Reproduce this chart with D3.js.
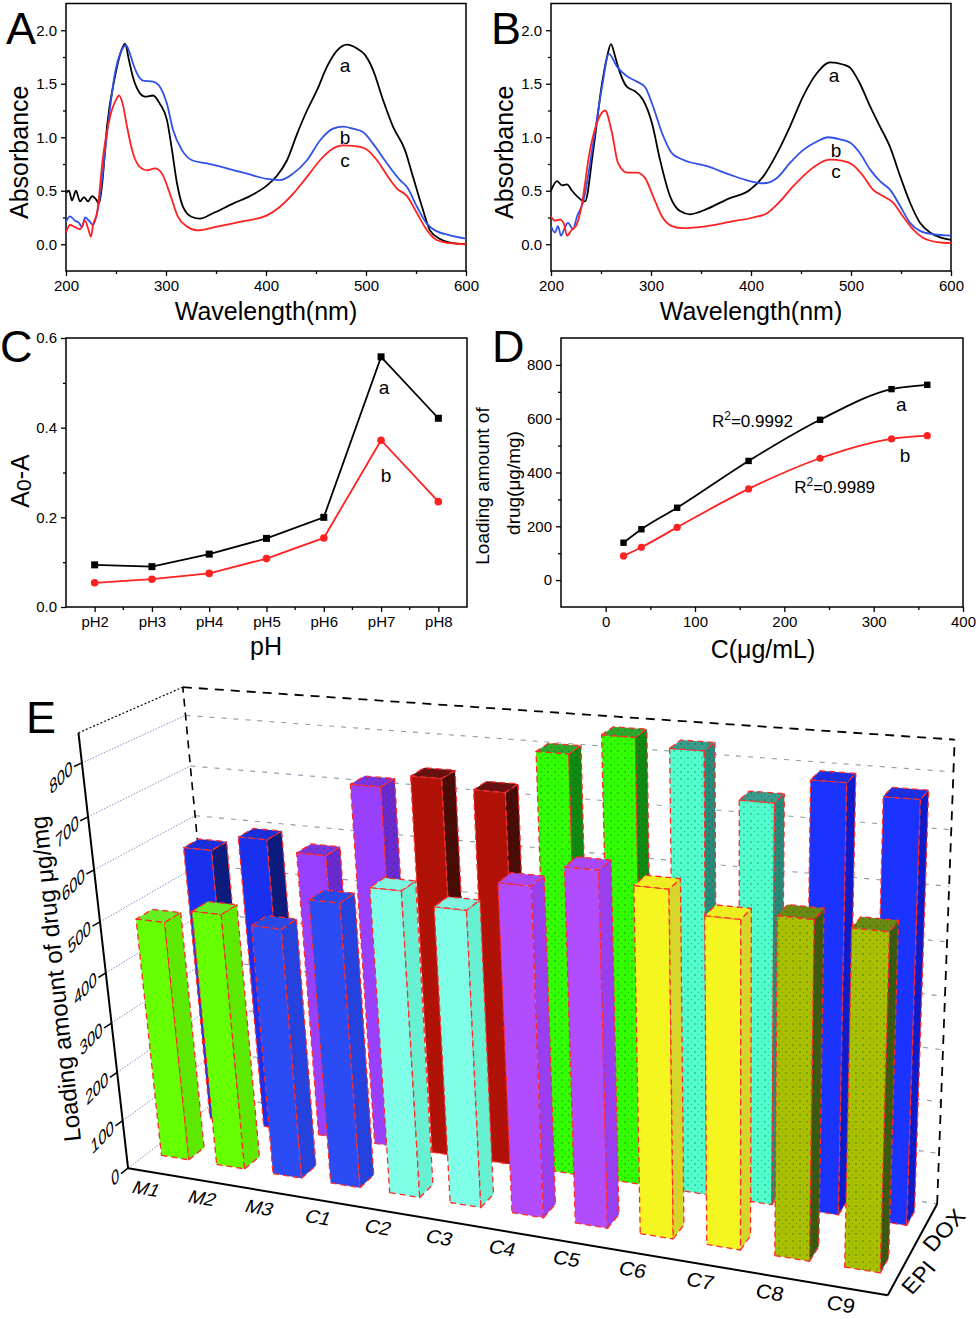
<!DOCTYPE html>
<html>
<head>
<meta charset="utf-8">
<script src="https://cdn.jsdelivr.net/npm/d3@7"></script>
<style>
  body { margin: 0; background: #fff; }
  text { font-family: Arial, "Liberation Sans", sans-serif; fill: #000; }
</style>
</head>
<body>
<svg id="fig" width="980" height="1319"></svg>
<script>
// ---------- data ----------
// panel A spectra [wavelength, absorbance]
const specA_a = [[200,0.48],[203,0.50],[206,0.41],[210,0.50],[214,0.40],[218,0.44],[222,0.40],[226,0.45],[230,0.42],[233,0.38],[236,0.55],[241,1.10],[249,1.57],[255,1.80],[259,1.875],[263,1.72],[267,1.56],[274,1.41],[279,1.38],[287,1.39],[294,1.31],[301,1.16],[306,0.88],[311,0.57],[317,0.35],[326,0.255],[334,0.24],[347,0.29],[367,0.38],[384,0.45],[401,0.55],[411,0.64],[421,0.785],[431,1.03],[441,1.25],[451,1.44],[461,1.66],[471,1.81],[481,1.865],[491,1.83],[499,1.77],[507,1.63],[517,1.35],[527,1.10],[539,0.88],[547,0.63],[556,0.35],[564,0.13],[574,0.05],[584,0.015],[600,0.0]];
const specA_b = [[200,0.21],[204,0.26],[209,0.22],[213,0.20],[216,0.16],[219,0.25],[224,0.21],[227,0.18],[231,0.29],[236,0.6],[241,1.03],[249,1.60],[255,1.80],[260,1.86],[264,1.78],[267,1.69],[272,1.58],[277,1.53],[287,1.52],[294,1.47],[301,1.31],[307,1.07],[316,0.88],[326,0.785],[341,0.755],[361,0.71],[381,0.66],[401,0.61],[414,0.60],[427,0.66],[441,0.785],[454,0.97],[467,1.08],[477,1.10],[487,1.08],[497,1.05],[507,0.94],[521,0.755],[534,0.60],[541,0.535],[551,0.35],[561,0.19],[571,0.12],[584,0.084],[600,0.053]];
const specA_c = [[200,0.11],[204,0.18],[209,0.16],[214,0.14],[219,0.22],[222,0.15],[225,0.07],[227,0.18],[231,0.29],[237,0.815],[244,1.19],[250,1.35],[253,1.39],[257,1.30],[261,1.10],[267,0.85],[274,0.72],[281,0.69],[289,0.71],[296,0.66],[304,0.47],[312,0.255],[321,0.165],[331,0.13],[351,0.165],[374,0.21],[401,0.27],[414,0.35],[427,0.47],[441,0.63],[454,0.785],[467,0.895],[477,0.925],[487,0.92],[499,0.895],[511,0.785],[521,0.645],[531,0.52],[541,0.45],[551,0.29],[561,0.13],[571,0.037],[584,0.01],[600,0.0]];
// panel B spectra
const specB_a = [[200,0.50],[206,0.59],[211,0.55],[216,0.56],[221,0.50],[227,0.44],[234,0.40],[242,0.86],[251,1.50],[256,1.75],[260,1.87],[264,1.76],[267,1.66],[276,1.47],[284,1.43],[292,1.35],[301,1.13],[309,0.79],[319,0.45],[329,0.31],[339,0.28],[356,0.33],[376,0.42],[399,0.51],[412,0.63],[426,0.85],[439,1.10],[452,1.38],[466,1.60],[479,1.70],[492,1.68],[499,1.65],[509,1.50],[519,1.29],[529,1.10],[539,0.91],[549,0.64],[559,0.39],[569,0.20],[579,0.11],[589,0.065],[600,0.04]];
const specB_b = [[200,0.17],[204,0.11],[207,0.17],[210,0.08],[214,0.16],[217,0.20],[222,0.14],[226,0.26],[232,0.39],[242,0.93],[251,1.47],[258,1.78],[266,1.66],[276,1.57],[286,1.52],[294,1.47],[302,1.29],[311,1.04],[321,0.85],[332,0.79],[356,0.73],[379,0.65],[399,0.59],[412,0.57],[426,0.62],[439,0.76],[452,0.88],[466,0.96],[477,1.0],[489,0.98],[499,0.95],[509,0.85],[519,0.70],[529,0.59],[539,0.51],[549,0.36],[559,0.20],[569,0.125],[582,0.094],[600,0.08]];
const specB_c = [[200,0.26],[204,0.22],[209,0.23],[213,0.19],[216,0.08],[221,0.14],[225,0.17],[230,0.33],[239,0.88],[247,1.16],[254,1.25],[261,1.04],[267,0.76],[276,0.67],[286,0.67],[294,0.62],[302,0.45],[311,0.26],[321,0.17],[332,0.15],[356,0.17],[379,0.21],[402,0.25],[416,0.29],[429,0.40],[442,0.54],[456,0.67],[469,0.76],[479,0.79],[492,0.78],[502,0.74],[512,0.64],[522,0.51],[532,0.45],[542,0.39],[552,0.26],[562,0.14],[572,0.06],[586,0.02],[600,0.01]];

// panel C
const pHLabels = ["pH2", "pH3", "pH4", "pH5", "pH6", "pH7", "pH8"];
const pH_a = [0.094, 0.090, 0.118, 0.153, 0.200, 0.558, 0.421];
const pH_b = [0.054, 0.062, 0.075, 0.108, 0.154, 0.372, 0.235];

// panel D
const concD = [20, 40, 80, 160, 240, 320, 360];
const load_a = [139, 189, 269, 443, 596, 710, 726];
const load_b = [90, 122, 196, 339, 453, 525, 537];

// panel E
const samples = ["M1", "M2", "M3", "C1", "C2", "C3", "C4", "C5", "C6", "C7", "C8", "C9"];
const drugs = ["EPI", "DOX"];
const epiLoad = [485, 513, 498, 560, 595, 572, 628, 668, 647, 607, 620, 612];
const doxLoad = [568, 600, 580, 722, 747, 731, 810, 848, 833, 752, 797, 778];
const eTicks = [0, 100, 200, 300, 400, 500, 600, 700, 800];
const epiColors = ["#66ff00", "#66ff00", "#2b4cf5", "#2b4cf5", "#80ffe8", "#80ffe8", "#b24dff", "#b24dff", "#f5f520", "#f5f520", "#a8c000", "#a8c000"];
const epiSide   = ["#5eea00", "#5eea00", "#2542de", "#2542de", "#68f0d2", "#68f0d2", "#9a3ff0", "#9a3ff0", "#d6d62a", "#d6d62a", "#3d5a10", "#3d5a10"];
const epiTop    = ["#66ee22", "#66ee22", "#2848e8", "#2848e8", "#80f5e0", "#80f5e0", "#a848f8", "#a848f8", "#eeee22", "#eeee22", "#6b8a10", "#6b8a10"];
const doxColors = ["#1a30f0", "#1a30f0", "#9940ff", "#9940ff", "#b01208", "#b01208", "#33ff00", "#33ff00", "#50ffcc", "#50ffcc", "#1a33ff", "#1a33ff"];
const doxSide   = ["#0d1a80", "#0d1a80", "#6a2ad0", "#6a2ad0", "#4a0a05", "#4a0a05", "#108a10", "#108a10", "#2a8a78", "#2a8a78", "#0d1ad0", "#0d1ad0"];
const doxTop    = ["#1a2ee0", "#1a2ee0", "#7a35e0", "#7a35e0", "#6a1010", "#6a1010", "#2ea82a", "#2ea82a", "#3a9c8a", "#3a9c8a", "#1a2ee8", "#1a2ee8"];

const svg = d3.select("#fig");
svg.append("rect").attr("width", 980).attr("height", 1319).attr("fill", "#fff");

// speckle texture used on the dotted bars
const pat = svg.append("defs").append("pattern").attr("id", "speck")
    .attr("patternUnits", "userSpaceOnUse").attr("width", 7).attr("height", 7);
pat.append("circle").attr("cx", 2).attr("cy", 2).attr("r", 0.8).attr("fill", "rgba(0,60,50,0.55)");
pat.append("circle").attr("cx", 5.5).attr("cy", 5.5).attr("r", 0.6).attr("fill", "rgba(0,60,50,0.4)");

function letter(txt, x, y) {
    svg.append("text").attr("x", x).attr("y", y)
        .style("font-size", "45px").text(txt);
}

// ---------- panels A and B ----------
function spectrumPanel(left, tag, curves, labels) {
    const x = d3.scaleLinear().domain([200, 600]).range([left, left + 400]);
    const y = d3.scaleLinear().domain([-0.25, 2.25]).range([271, 3.5]);
    const g = svg.append("g");

    g.append("g").attr("transform", "translate(0,271)")
        .call(d3.axisBottom(x).tickValues([250, 350, 450, 550]).tickSize(3).tickFormat(""));
    g.append("g").attr("transform", "translate(0,271)")
        .call(d3.axisBottom(x).tickValues([200, 300, 400, 500, 600]).tickSize(5).tickPadding(4).tickFormat(d3.format("d")));
    g.append("g").attr("transform", `translate(${left},0)`)
        .call(d3.axisLeft(y).tickValues([0.25, 0.75, 1.25, 1.75]).tickSize(3).tickFormat(""));
    g.append("g").attr("transform", `translate(${left},0)`)
        .call(d3.axisLeft(y).tickValues([0, 0.5, 1, 1.5, 2]).tickSize(5).tickPadding(4).tickFormat(d3.format(".1f")));
    g.selectAll(".domain").remove();
    g.selectAll(".tick text").style("font-size", "15px").style("font-family", "Arial, 'Liberation Sans', sans-serif");
    g.selectAll(".tick line").attr("stroke-width", 1.3);

    g.append("rect").attr("x", left).attr("y", 3.5).attr("width", 400).attr("height", 267.5)
        .attr("fill", "none").attr("stroke", "#000").attr("stroke-width", 1.5);

    const line = d3.line().x(d => x(d[0])).y(d => y(d[1])).curve(d3.curveMonotoneX);
    curves.forEach(c => {
        g.append("path").attr("d", line(c.data)).attr("fill", "none")
            .attr("stroke", c.color).attr("stroke-width", 1.8);
    });
    labels.forEach(l => {
        g.append("text").attr("x", x(l[1])).attr("y", y(l[2])).attr("text-anchor", "middle")
            .style("font-size", "19px").text(l[0]);
    });

    g.append("text").attr("transform", `translate(${left - 38},${(3.5 + 271) / 2 + 15}) rotate(-90)`)
        .attr("text-anchor", "middle").style("font-size", "25px").text("Absorbance");
    g.append("text").attr("x", left + 200).attr("y", 320).attr("text-anchor", "middle")
        .style("font-size", "25px").text("Wavelength(nm)");
    letter(tag, left - 60, 44);
}

spectrumPanel(66, "A",
    [{ data: specA_a, color: "#000" }, { data: specA_b, color: "#3050e8" }, { data: specA_c, color: "#ff2020" }],
    [["a", 479, 1.61], ["b", 479, 0.94], ["c", 479, 0.72]]);
spectrumPanel(551, "B",
    [{ data: specB_a, color: "#000" }, { data: specB_b, color: "#3050e8" }, { data: specB_c, color: "#ff2020" }],
    [["a", 483, 1.52], ["b", 485, 0.82], ["c", 485, 0.62]]);

// ---------- panel C ----------
(function () {
    const x = d3.scalePoint().domain(pHLabels).range([66, 467]).padding(0.5);
    const y = d3.scaleLinear().domain([0, 0.6]).range([607, 338]);
    const g = svg.append("g");
    const mids = pHLabels.slice(1).map((p, i) => (x(p) + x(pHLabels[i])) / 2);

    g.append("g").attr("transform", "translate(0,607)")
        .call(d3.axisBottom(x).tickSize(5).tickPadding(4));
    g.selectAll("line.minor").data(mids).enter().append("line").attr("class", "minor")
        .attr("x1", d => d).attr("x2", d => d).attr("y1", 607).attr("y2", 610)
        .attr("stroke", "#000").attr("stroke-width", 1.3);
    g.append("g").attr("transform", "translate(66,0)")
        .call(d3.axisLeft(y).tickValues([0.1, 0.3, 0.5]).tickSize(3).tickFormat(""));
    g.append("g").attr("transform", "translate(66,0)")
        .call(d3.axisLeft(y).tickValues([0, 0.2, 0.4, 0.6]).tickSize(5).tickPadding(4).tickFormat(d3.format(".1f")));
    g.selectAll(".domain").remove();
    g.selectAll(".tick text").style("font-size", "15px").style("font-family", "Arial, 'Liberation Sans', sans-serif");
    g.selectAll(".tick line").attr("stroke-width", 1.3);
    g.append("rect").attr("x", 66).attr("y", 338).attr("width", 401).attr("height", 269)
        .attr("fill", "none").attr("stroke", "#000").attr("stroke-width", 1.5);

    const line = d3.line().x((d, i) => x(pHLabels[i])).y(d => y(d));
    g.append("path").attr("d", line(pH_a)).attr("fill", "none").attr("stroke", "#000").attr("stroke-width", 1.8);
    g.append("path").attr("d", line(pH_b)).attr("fill", "none").attr("stroke", "#ff2020").attr("stroke-width", 1.8);
    g.selectAll("rect.pa").data(pH_a).enter().append("rect").attr("class", "pa")
        .attr("x", (d, i) => x(pHLabels[i]) - 3.5).attr("y", d => y(d) - 3.5)
        .attr("width", 7).attr("height", 7).attr("fill", "#000");
    g.selectAll("circle.pb").data(pH_b).enter().append("circle").attr("class", "pb")
        .attr("cx", (d, i) => x(pHLabels[i])).attr("cy", d => y(d)).attr("r", 3.8).attr("fill", "#ff2020");

    g.append("text").attr("x", x("pH7") + 3).attr("y", y(0.475)).attr("text-anchor", "middle").style("font-size", "19px").text("a");
    g.append("text").attr("x", x("pH7") + 5).attr("y", y(0.278)).attr("text-anchor", "middle").style("font-size", "19px").text("b");

    const yl = g.append("text").attr("transform", "translate(29,481) rotate(-90)")
        .attr("text-anchor", "middle").style("font-size", "25px");
    yl.append("tspan").text("A");
    yl.append("tspan").attr("dy", 2).style("font-size", "21px").text("0");
    yl.append("tspan").attr("dy", -2).text("-A");
    g.append("text").attr("x", 266).attr("y", 655).attr("text-anchor", "middle").style("font-size", "25px").text("pH");
    letter("C", 0, 362);
})();

// ---------- panel D ----------
(function () {
    const x = d3.scaleLinear().domain([-50, 400]).range([561, 963]);
    const y = d3.scaleLinear().domain([-100, 900]).range([607, 338]);
    const g = svg.append("g");

    g.append("g").attr("transform", "translate(0,607)")
        .call(d3.axisBottom(x).tickValues([50, 150, 250, 350]).tickSize(3).tickFormat(""));
    g.append("g").attr("transform", "translate(0,607)")
        .call(d3.axisBottom(x).tickValues([0, 100, 200, 300, 400]).tickSize(5).tickPadding(4).tickFormat(d3.format("d")));
    g.append("g").attr("transform", "translate(561,0)")
        .call(d3.axisLeft(y).tickValues([100, 300, 500, 700]).tickSize(3).tickFormat(""));
    g.append("g").attr("transform", "translate(561,0)")
        .call(d3.axisLeft(y).tickValues([0, 200, 400, 600, 800]).tickSize(5).tickPadding(4).tickFormat(d3.format("d")));
    g.selectAll(".domain").remove();
    g.selectAll(".tick text").style("font-size", "15px").style("font-family", "Arial, 'Liberation Sans', sans-serif");
    g.selectAll(".tick line").attr("stroke-width", 1.3);
    g.append("rect").attr("x", 561).attr("y", 338).attr("width", 402).attr("height", 269)
        .attr("fill", "none").attr("stroke", "#000").attr("stroke-width", 1.5);

    const line = d3.line().x((d, i) => x(concD[i])).y(d => y(d)).curve(d3.curveMonotoneX);
    g.append("path").attr("d", line(load_a)).attr("fill", "none").attr("stroke", "#000").attr("stroke-width", 1.8);
    g.append("path").attr("d", line(load_b)).attr("fill", "none").attr("stroke", "#ff2020").attr("stroke-width", 1.8);
    g.selectAll("rect.da").data(load_a).enter().append("rect").attr("class", "da")
        .attr("x", (d, i) => x(concD[i]) - 3.2).attr("y", d => y(d) - 3.2)
        .attr("width", 6.4).attr("height", 6.4).attr("fill", "#000");
    g.selectAll("circle.db").data(load_b).enter().append("circle").attr("class", "db")
        .attr("cx", (d, i) => x(concD[i])).attr("cy", d => y(d)).attr("r", 3.6).attr("fill", "#ff2020");

    function r2(txt, xv, yv) {
        const t = g.append("text").attr("x", x(xv)).attr("y", y(yv)).style("font-size", "17px");
        t.append("tspan").text("R");
        t.append("tspan").attr("dy", -7).style("font-size", "12px").text("2");
        t.append("tspan").attr("dy", 7).text(txt);
    }
    r2("=0.9992", 119, 571);
    r2("=0.9989", 211, 324);
    g.append("text").attr("x", x(331)).attr("y", y(629)).attr("text-anchor", "middle").style("font-size", "19px").text("a");
    g.append("text").attr("x", x(335)).attr("y", y(440)).attr("text-anchor", "middle").style("font-size", "19px").text("b");

    g.append("text").attr("transform", "translate(489,486) rotate(-90)").attr("text-anchor", "middle")
        .style("font-size", "19px").text("Loading amount of");
    g.append("text").attr("transform", "translate(520,483) rotate(-90)").attr("text-anchor", "middle")
        .style("font-size", "19px").text("drug(\u03bcg/mg)");
    g.append("text").attr("x", 763).attr("y", 658).attr("text-anchor", "middle").style("font-size", "25px").text("C(\u03bcg/mL)");
    letter("D", 492, 362);
})();

// ---------- panel E : 3D bars ----------
(function () {
    const YMAX = 855;
    const xE = d3.scaleBand().domain(samples).range([0, 12]).paddingInner(0.5).paddingOuter(0.25);
    const zE = d3.scaleBand().domain(drugs).range([0.2, 0.88]).paddingInner(0.69);
    const vE = d3.scaleLinear().domain([0, YMAX]).range([0, 1]);

    // frame calibration: (category units, value, depth) -> screen
    const anchors = [
        [0, 0, 0, 128, 1167], [0, 400, 0, 106, 975], [0, 800, 0, 81, 762], [0, YMAX, 0, 79, 733],
        [0, 800, 1, 186, 713], [0, 700, 1, 190, 765], [0, 600, 1, 195, 817], [0, YMAX, 1, 183, 689],
        [12, 0, 1, 937, 1205], [12, 400, 1, 945, 995], [12, 800, 1, 953, 770], [12, YMAX, 1, 955, 742],
        [12, 0, 0, 888, 1295]
    ];
    const rows = [], rhs = [];
    anchors.forEach(a => {
        const X = a[0] / 12, Y = vE(a[1]), Z = a[2], u = (a[3] - 500) / 500, v = (a[4] - 1000) / 500;
        rows.push([X, Y, Z, 1, 0, 0, 0, 0, -u * X, -u * Y, -u * Z]); rhs.push(u);
        rows.push([0, 0, 0, 0, X, Y, Z, 1, -v * X, -v * Y, -v * Z]); rhs.push(v);
    });
    const n = 11;
    const M = d3.range(n).map(() => new Array(n + 1).fill(0));
    rows.forEach((r, k) => {
        for (let i = 0; i < n; i++) {
            for (let j = 0; j < n; j++) M[i][j] += r[i] * r[j];
            M[i][n] += r[i] * rhs[k];
        }
    });
    for (let c = 0; c < n; c++) {
        let piv = c;
        for (let r = c + 1; r < n; r++) if (Math.abs(M[r][c]) > Math.abs(M[piv][c])) piv = r;
        [M[c], M[piv]] = [M[piv], M[c]];
        for (let r = 0; r < n; r++) {
            if (r === c) continue;
            const f = M[r][c] / M[c][c];
            for (let j = c; j <= n; j++) M[r][j] -= f * M[c][j];
        }
    }
    const p = M.map((r, i) => r[n] / r[i]);
    function P(X, val, Z) {
        const x = X / 12, y = vE(val), z = Z;
        const w = p[8] * x + p[9] * y + p[10] * z + 1;
        return [((p[0] * x + p[1] * y + p[2] * z + p[3]) / w) * 500 + 500,
                ((p[4] * x + p[5] * y + p[6] * z + p[7]) / w) * 500 + 1000];
    }

    const g = svg.append("g");
    const seg = (a, b) => g.append("line").attr("x1", a[0]).attr("y1", a[1]).attr("x2", b[0]).attr("y2", b[1]);

    // walls grid
    eTicks.forEach(v => {
        seg(P(0, v, 0), P(0, v, 1)).attr("stroke", "#7f8fc8").attr("stroke-width", 1).attr("stroke-dasharray", "1.5,1.5");
        seg(P(0, v, 1), P(12, v, 1)).attr("stroke", "#8d9aa8").attr("stroke-width", 1.1).attr("stroke-dasharray", "5,7");
    });
    seg(P(0, YMAX, 0), P(0, YMAX, 1)).attr("stroke", "#000").attr("stroke-width", 1.2).attr("stroke-dasharray", "2,2");
    seg(P(0, YMAX, 1), P(12, YMAX, 1)).attr("stroke", "#000").attr("stroke-width", 1.8).attr("stroke-dasharray", "9,7");
    seg(P(0, 0, 1), P(0, YMAX, 1)).attr("stroke", "#000").attr("stroke-width", 1.6).attr("stroke-dasharray", "8,6");
    seg(P(12, 0, 1), P(12, YMAX, 1)).attr("stroke", "#000").attr("stroke-width", 1.8).attr("stroke-dasharray", "9,7");

    // bars: back row first, left to right
    const face = d3.line().curve(d3.curveLinearClosed);
    const bw = xE.bandwidth(), bd = zE.bandwidth();
    const dotted = new Set(["DOX C6", "DOX C7", "EPI C8", "EPI C9", "DOX C4", "DOX C5"]);
    [["DOX", doxLoad, doxColors, doxSide, doxTop], ["EPI", epiLoad, epiColors, epiSide, epiTop]].forEach(row => {
        const z0 = zE(row[0]), z1 = z0 + bd;
        samples.forEach((s, i) => {
            const x0 = xE(s), x1 = x0 + bw, v = row[1][i];
            const faces = [
                [[x0, 0, z0], [x1, 0, z0], [x1, v, z0], [x0, v, z0], row[2][i]],
                [[x1, 0, z0], [x1, 0, z1], [x1, v, z1], [x1, v, z0], row[3][i]],
                [[x0, v, z0], [x1, v, z0], [x1, v, z1], [x0, v, z1], row[4][i]]
            ];
            faces.forEach((f, k) => {
                const d = face(f.slice(0, 4).map(q => P(q[0], q[1], q[2])));
                g.append("path").attr("d", d).attr("fill", f[4]);
                if (dotted.has(row[0] + " " + s) || (row[0] === "DOX" && k > 0)) {
                    g.append("path").attr("d", d).attr("fill", "url(#speck)");
                }
                g.append("path").attr("d", d).attr("fill", "none")
                    .attr("stroke", "#ff2a2a").attr("stroke-width", 1.3)
                    .attr("stroke-dasharray", "6,4").attr("stroke-linejoin", "round");
            });
        });
    });

    // front axes
    seg(P(0, 0, 0), P(0, YMAX, 0)).attr("stroke", "#000").attr("stroke-width", 2);
    seg(P(0, 0, 0), P(12, 0, 0)).attr("stroke", "#000").attr("stroke-width", 2);
    seg(P(12, 0, 0), P(12, 0, 1)).attr("stroke", "#000").attr("stroke-width", 2);

    eTicks.forEach(v => {
        const a = P(0, v, 0), b = P(0, v, -0.07);
        seg(a, b).attr("stroke", "#000").attr("stroke-width", 1.5);
        g.append("text").attr("text-anchor", "end")
            .attr("transform", `translate(${b[0] - 1},${b[1] + 6}) matrix(0.70,-0.72,0.15,0.99,0,0)`)
            .style("font-size", "19px").text(v);
    });

    samples.forEach((s, i) => {
        const c = P(xE(s) + bw / 2, 0, 0);
        const t = i / 11;
        const sh = 0.45 - 0.25 * t, fs = 19 + 3 * t;
        g.append("text").attr("text-anchor", "middle")
            .attr("transform", `translate(${c[0] - 12},${c[1] + 22}) matrix(0.986,0.166,${-sh},0.9,0,0)`)
            .style("font-size", fs + "px").text(s);
    });

    drugs.forEach(d => {
        const c = P(12, 0, zE(d) + bd / 2);
        g.append("text").attr("text-anchor", "middle")
            .attr("transform", `translate(${c[0] + 22},${c[1] + 14}) matrix(0.68,-0.73,0.75,0.6,0,0)`)
            .style("font-size", "23px").text(d);
    });

    g.append("text").attr("text-anchor", "middle")
        .attr("transform", "translate(64,978) rotate(-96)")
        .style("font-size", "24px").text("Loading amount of drug \u03bcg/mg");
    letter("E", 26, 733);
})();
</script>
</body>
</html>
